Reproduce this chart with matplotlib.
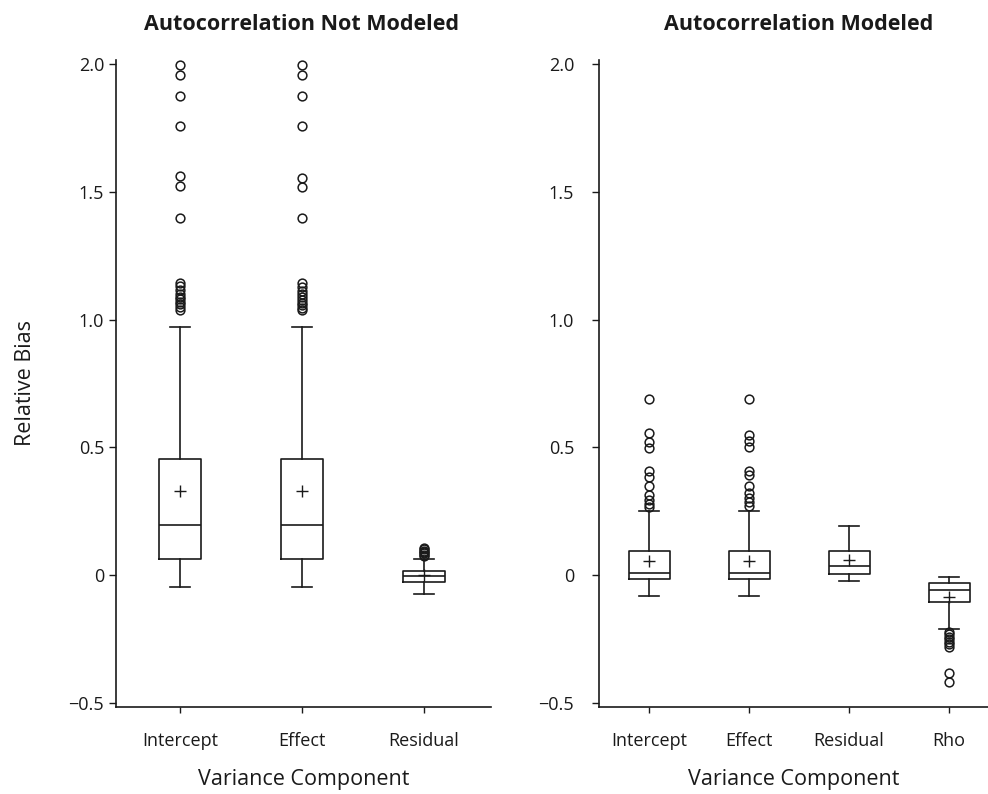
import matplotlib
matplotlib.use('Agg')
import matplotlib.pyplot as plt

plt.rcParams['font.family'] = ['Open Sans', 'DejaVu Sans']

# ---------------- data ----------------
left_title = 'Autocorrelation Not Modeled'
right_title = 'Autocorrelation Modeled'
left_categories = ['Intercept', 'Effect', 'Residual']
right_categories = ['Intercept', 'Effect', 'Residual', 'Rho']

y_ticks = [-0.5, 0, 0.5, 1.0, 1.5, 2.0]
y_tick_labels = ['\u22120.5', '0', '0.5', '1.0', '1.5', '2.0']

# Left panel (autocorrelation not modeled)
left_whislo = [-0.048, -0.048, -0.073]
left_q1 = [0.064, 0.064, -0.029]
left_med = [0.196, 0.196, -0.005]
left_q3 = [0.455, 0.455, 0.017]
left_whishi = [0.972, 0.972, 0.064]
left_mean = [0.328, 0.328, 0.0]
left_fliers = [
    [1.997, 1.959, 1.877, 1.759, 1.560, 1.524, 1.399,
     1.144, 1.130, 1.115, 1.100, 1.090, 1.080, 1.070, 1.060, 1.048, 1.037],
    [1.997, 1.959, 1.877, 1.759, 1.555, 1.520, 1.399,
     1.144, 1.128, 1.112, 1.100, 1.088, 1.075, 1.065, 1.055, 1.045, 1.037],
    [0.075, 0.080, 0.085, 0.090, 0.095, 0.100, 0.105],
]

# Right panel (autocorrelation modeled)
right_whislo = [-0.082, -0.082, -0.024, -0.213]
right_q1 = [-0.016, -0.016, 0.005, -0.107]
right_med = [0.007, 0.007, 0.034, -0.059]
right_q3 = [0.093, 0.093, 0.093, -0.033]
right_whishi = [0.252, 0.252, 0.192, -0.010]
right_mean = [0.054, 0.054, 0.059, -0.087]
right_fliers = [
    [0.689, 0.555, 0.522, 0.496, 0.405, 0.385, 0.348, 0.313, 0.294, 0.278, 0.265],
    [0.689, 0.548, 0.525, 0.500, 0.405, 0.390, 0.350, 0.320, 0.300, 0.285, 0.270],
    [],
    [-0.222, -0.232, -0.242, -0.252, -0.262, -0.272, -0.283, -0.385, -0.418],
]


def make_stats(labels, wlo, q1, med, q3, whi, mean, fliers):
    out = []
    for i, lab in enumerate(labels):
        out.append(dict(label=lab, whislo=wlo[i], q1=q1[i], med=med[i], q3=q3[i],
                        whishi=whi[i], mean=mean[i], fliers=fliers[i]))
    return out


W, H = 988, 794
fig = plt.figure(figsize=(W / 100, H / 100), dpi=100)

ink = '#1a1a1a'
line_kw = dict(color=ink, linewidth=1.2)
common = dict(
    showmeans=True, meanline=False,
    boxprops=line_kw, whiskerprops=line_kw, capprops=line_kw,
    medianprops=line_kw,
    meanprops=dict(marker='+', markeredgecolor=ink, markersize=8, markeredgewidth=1.0),
    flierprops=dict(marker='o', markerfacecolor='none', markeredgecolor=ink,
                    markersize=6.3, markeredgewidth=1.1),
)

y_top_px, y_bot_px = 60, 707


def add_axes(x0_px, x1_px):
    return fig.add_axes([x0_px / W, 1 - y_bot_px / H, (x1_px - x0_px) / W,
                         (y_bot_px - y_top_px) / H])


axL = add_axes(116, 491)
axR = add_axes(599, 988)

statsL = make_stats(left_categories, left_whislo, left_q1, left_med, left_q3,
                    left_whishi, left_mean, left_fliers)
statsR = make_stats(right_categories, right_whislo, right_q1, right_med, right_q3,
                    right_whishi, right_mean, right_fliers)

posL = list(range(1, len(left_categories) + 1))
posR = list(range(1, len(right_categories) + 1))
axL.bxp(statsL, positions=posL, widths=0.344, capwidths=0.164, **common)
axR.bxp(statsR, positions=posR, widths=0.41, capwidths=0.2, **common)

axL.set_xlim(0.475, 3.55)
axR.set_xlim(0.5, 4.39)

for ax, pad in ((axL, 3.6), (axR, 13)):
    ax.set_ylim(-0.517, 2.016)
    ax.set_yticks(y_ticks, y_tick_labels)
    ax.spines['top'].set_visible(False)
    ax.spines['right'].set_visible(False)
    for s in ('left', 'bottom'):
        ax.spines[s].set_linewidth(1.2)
        ax.spines[s].set_color(ink)
    ax.tick_params(axis='y', direction='out', length=5, width=1.0, pad=pad,
                   labelsize=13, colors=ink)
    ax.tick_params(axis='x', direction='out', length=4, width=1.0, pad=14,
                   labelsize=13, colors=ink)
    ax.set_xlabel('Variance Component', fontsize=15.5, labelpad=14, color=ink)

axL.set_ylabel('Relative Bias', fontsize=15.5, labelpad=23, color=ink)

fig.text(301 / W, 1 - 24 / H, left_title, ha='center', va='center',
         fontsize=15.5, fontweight='bold', color=ink)
fig.text(799 / W, 1 - 24 / H, right_title, ha='center', va='center',
         fontsize=15.5, fontweight='bold', color=ink)

fig.savefig('out.png', dpi=100)
